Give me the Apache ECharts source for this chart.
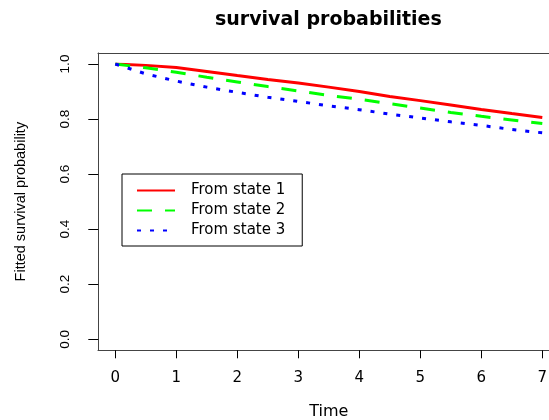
<!DOCTYPE html>
<html lang="en">
<head>
    <meta charset="UTF-8">
    <title>survival probabilities</title>
</head>
<style>
    html, body { margin: 0; padding: 0; background: #fff; }
    #main { width: 549px; height: 420px; }
</style>
<body>
<div id="main"></div>
</body>
<script src="https://cdn.jsdelivr.net/npm/echarts@6/dist/echarts.min.js"></script>
<script>
    // time points and fitted survival from each state
    var times = [0, 0.5, 1, 1.5, 2, 2.5, 3, 3.5, 4, 4.5, 5, 5.5, 6, 6.5, 7];
    var state1 = [1.000, 0.995, 0.987, 0.973, 0.958, 0.944, 0.931, 0.916, 0.900, 0.882, 0.867, 0.851, 0.835, 0.820, 0.806];
    var state2 = [1.000, 0.986, 0.970, 0.952, 0.935, 0.918, 0.902, 0.886, 0.872, 0.856, 0.840, 0.824, 0.810, 0.797, 0.784];
    var state3 = [1.000, 0.964, 0.938, 0.916, 0.897, 0.879, 0.864, 0.848, 0.834, 0.818, 0.804, 0.790, 0.777, 0.762, 0.750];
    var seriesNames = ['From state 1', 'From state 2', 'From state 3'];
    var yTickLabels = ['0.0', '0.2', '0.4', '0.6', '0.8', '1.0'];
    var xTickLabels = ['0', '1', '2', '3', '4', '5', '6', '7'];

    function pairs(ys) {
        var out = [];
        for (var i = 0; i < times.length; i++) {
            out.push([times[i], ys[i]]);
        }
        return out;
    }

    var hFont = 'DejaVu Sans';
    var vFont = 'Liberation Sans';
    var boxLine = {show: true, onZero: false, lineStyle: {color: '#444', width: 1}};

    // hidden axes of the box grid, only their lines are drawn
    function boxAxis(pos) {
        return {
            gridIndex: 1, type: 'value', min: 0, max: 1, position: pos,
            axisLine: boxLine, axisTick: {show: false}, axisLabel: {show: false}, splitLine: {show: false}
        };
    }

    var myChart = echarts.init(document.getElementById('main'));
    var option = {
        animation: false,
        backgroundColor: '#fff',
        title: {
            text: 'survival probabilities',
            left: 210,
            top: 6,
            textStyle: {fontFamily: hFont, fontSize: 19, fontWeight: 'bold', color: '#000'}
        },
        legend: {
            orient: 'vertical',
            left: 122,
            top: 174,
            data: seriesNames,
            itemWidth: 38,
            itemHeight: 14,
            itemGap: 5,
            padding: [9, 17, 8, 14],
            borderColor: '#000',
            borderWidth: 1,
            backgroundColor: '#fff',
            itemStyle: {opacity: 0, borderWidth: 0},
            textStyle: {fontFamily: hFont, fontSize: 15, color: '#000', padding: [0, 0, 0, 11]}
        },
        grid: [
            // data area: 0..7 and 0..1
            {left: 115.3, top: 64, width: 427, height: 275.3, outerBoundsMode: 'none'},
            // plot box (R adds 4% on each side), runs past the right edge
            {left: 98, top: 53, width: 461, height: 297, outerBoundsMode: 'none'}
        ],
        xAxis: [
            {
                gridIndex: 0,
                type: 'value',
                min: 0,
                max: 7,
                interval: 1,
                offset: 11,
                name: 'Time',
                nameLocation: 'middle',
                nameGap: 54,
                nameTextStyle: {fontFamily: hFont, fontSize: 16, color: '#000'},
                axisLine: {show: false, onZero: false},
                axisTick: {show: true, length: 8, lineStyle: {color: '#000'}},
                axisLabel: {
                    margin: 20,
                    fontFamily: hFont,
                    fontSize: 15,
                    color: '#000',
                    formatter: function (v) { return xTickLabels[Math.round(v)]; }
                },
                splitLine: {show: false}
            },
            boxAxis('bottom'),
            boxAxis('top')
        ],
        yAxis: [
            {
                gridIndex: 0,
                type: 'value',
                min: 0,
                max: 1,
                interval: 0.2,
                offset: 17,
                name: 'Fitted survival probability',
                nameLocation: 'middle',
                nameRotate: 90,
                nameGap: 70,
                nameTextStyle: {fontFamily: vFont, fontSize: 14.5, color: '#000'},
                axisLine: {show: false, onZero: false},
                axisTick: {show: true, length: 10, lineStyle: {color: '#000'}},
                axisLabel: {
                    rotate: 90,
                    margin: 26,
                    fontFamily: vFont,
                    fontSize: 13.5,
                    color: '#000',
                    formatter: function (v) { return yTickLabels[Math.round(v * 5)]; }
                },
                splitLine: {show: false}
            },
            boxAxis('left'),
            boxAxis('right')
        ],
        series: [
            {
                name: seriesNames[0],
                type: 'line',
                data: pairs(state1),
                showSymbol: false,
                symbol: 'none',
                lineStyle: {color: '#ff0000', width: 3, type: 'solid'},
                itemStyle: {color: '#ff0000'}
            },
            {
                name: seriesNames[1],
                type: 'line',
                data: pairs(state2),
                showSymbol: false,
                symbol: 'none',
                lineStyle: {color: '#00ff00', width: 3, type: [15, 13]},
                itemStyle: {color: '#00ff00'}
            },
            {
                name: seriesNames[2],
                type: 'line',
                data: pairs(state3),
                showSymbol: false,
                symbol: 'none',
                lineStyle: {color: '#0000ff', width: 3, type: [4, 9]},
                itemStyle: {color: '#0000ff'}
            }
        ]
    };
    myChart.setOption(option);
</script>
</html>
